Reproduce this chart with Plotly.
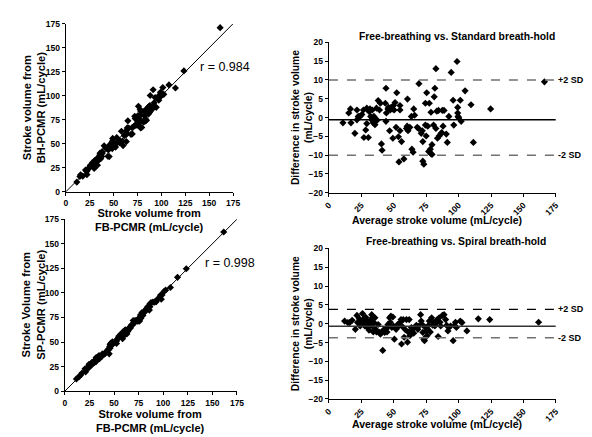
import plotly.graph_objects as go

# ---------------- data ----------------
# Bland-Altman: Free-breathing vs. Standard breath-hold (average, difference = BH - FB)
avg_std = [10.8, 16.6, 15.3, 17.0, 20.0, 21.6, 21.6, 22.6, 24.0, 25.4, 26.6, 27.0, 28.4, 29.2, 29.2,
           30.4, 30.9, 31.7, 32.2, 33.0, 33.4, 34.2, 34.7, 35.5, 36.0, 36.7, 37.2, 38.0, 39.0, 39.7,
           40.5, 41.0, 44.0, 43.5, 44.3, 44.0, 45.5, 46.0, 46.8, 47.3, 48.0, 49.0, 49.8, 50.3, 49.3,
           51.0, 52.3, 51.8, 53.6, 54.0, 54.8, 54.8, 54.8, 56.0, 57.8, 59.8, 60.3, 60.6, 61.0, 62.4,
           63.6, 64.0, 64.9, 65.4, 66.1, 68.1, 69.1, 69.4, 71.2, 72.0, 72.4, 73.2, 72.4, 74.4, 74.4,
           75.0, 75.4, 76.2, 77.4, 76.9, 78.2, 78.7, 79.5, 78.7, 79.5, 81.2, 81.7, 80.7, 82.5, 82.5,
           83.2, 83.7, 84.5, 85.0, 86.2, 87.0, 87.5, 88.0, 88.8, 90.5, 91.3, 92.5, 94.3, 95.8, 96.3,
           98.8, 99.3, 99.3, 99.6, 100.0, 101.3, 102.0, 105.0, 109.6, 111.4, 124.7, 166.2]
diff_std = [-1.4, 2.3, 1.2, -1.4, -4.2, 2.0, -0.6, 0.3, 0.3, 0.8, 2.0, -5.3, -3.3, 2.5, -1.6,
            -5.3, 1.6, 2.3, 0.3, -0.6, 2.0, -1.4, 0.3, -1.9, -0.6, 2.5, -0.7, 4.5, 2.0, 3.8,
            -7.0, -8.7, 7.8, 3.8, 1.2, -1.0, 2.3, 2.7, -3.5, 2.0, 2.7, 2.3, 3.2, 2.0, -5.5,
            4.0, 6.6, -2.6, -5.1, -11.8, 3.2, 2.0, -3.5, -6.4, -11.0, -2.9, -2.3, 4.9, -3.5, -2.6,
            0.3, -8.4, -9.2, 2.3, 0.6, -2.6, -2.9, 9.0, -4.2, -3.5, -11.6, -12.4, -6.4, 3.8, -2.0,
            -4.9, 6.6, -2.3, 3.8, -9.0, -8.4, -9.6, -7.2, 1.4, -9.8, 5.5, 7.8, -2.0, 13.0, -2.9,
            1.7, -5.5, 1.9, -4.9, -4.4, -4.0, 1.9, -2.3, 1.9, -4.4, -6.6, 0.3, 12.0, 4.6, -2.0,
            14.9, 2.7, 1.2, 0.3, 0.0, 4.6, -1.0, 7.1, 3.4, -6.6, 2.3, 9.5]

# Bland-Altman: Free-breathing vs. Spiral breath-hold (average, difference = SP - FB)
avg_sp = [12.1, 14.6, 16.0, 17.9, 20.4, 21.6, 22.1, 23.4, 24.1, 25.1, 25.9, 26.7, 27.2, 27.7, 28.4,
          29.2, 29.7, 30.4, 30.9, 31.7, 32.2, 33.0, 33.4, 34.2, 34.7, 35.5, 36.0, 36.7, 38.0, 39.0,
          39.7, 41.0, 41.5, 42.2, 43.0, 44.0, 44.8, 45.5, 46.0, 46.8, 47.3, 47.8, 48.5, 49.3, 49.8,
          50.5, 51.8, 53.0, 54.0, 54.8, 55.6, 56.0, 56.8, 57.3, 58.0, 59.0, 59.8, 60.6, 61.1, 61.9,
          62.4, 63.1, 63.6, 64.4, 65.4, 66.1, 67.4, 68.6, 69.4, 70.7, 71.2, 71.9, 72.4, 73.2, 73.7,
          74.4, 74.9, 75.7, 76.2, 76.9, 77.4, 78.2, 79.2, 80.0, 80.7, 81.7, 82.5, 83.2, 84.2, 85.0,
          85.7, 86.2, 87.5, 88.8, 90.0, 90.8, 91.8, 92.5, 93.8, 95.8, 96.8, 97.6, 98.3, 101.3, 102.6,
          106.4, 115.2, 124.0, 161.7]
diff_sp = [0.7, 0.3, 0.3, 0.9, -1.5, 2.2, 0.3, 1.3, -0.6, 0.7, 2.7, -0.2, 1.3, -0.6, 1.7,
           0.7, -1.0, 0.3, -1.7, -0.2, 1.1, 2.4, -0.6, -2.2, 0.3, 1.6, -1.5, -2.2, -0.2, -2.3,
           -2.8, -2.2, -7.1, -1.6, -2.3, -1.5, -2.2, -0.2, -0.6, 1.6, 0.4, 2.0, -1.0, 1.8, -0.6,
           -4.1, -1.5, -0.2, -0.6, 0.3, 1.1, -5.4, -0.8, 1.1, -3.6, -1.6, 1.1, -4.9, -2.2, 1.1,
           -3.2, -2.2, -1.0, -1.5, -2.5, -1.0, -0.4, -1.5, -0.6, 2.4, 0.7, -0.2, -2.3, -4.1, -4.5,
           -1.0, -1.9, -3.2, -1.5, -0.4, 0.7, -2.2, 1.6, -0.4, 0.3, -0.6, 0.1, 1.0, -3.4, 1.6,
           0.4, -0.6, 2.2, 2.4, 1.1, -0.4, -1.9, -1.0, -0.6, -4.5, -0.4, 0.4, -1.0, 0.7, 0.3,
           -1.9, 1.3, 1.1, 0.4]

# Reference lines (bias and limits of agreement)
std_mean, std_upper, std_lower = -0.6, 10.0, -10.0
sp_mean, sp_upper, sp_lower = -0.7, 3.8, -3.7

r_std_label = "r = 0.984"
r_sp_label = "r = 0.998"

scatter_ticks = [0, 25, 50, 75, 100, 125, 150, 175]
diff_ticks = [-20, -15, -10, -5, 0, 5, 10, 15, 20]
AXIS_MAX = 175

# measurements reconstructed from the Bland-Altman pairs
fb_std = [a - d / 2 for a, d in zip(avg_std, diff_std)]
bh_std = [a + d / 2 for a, d in zip(avg_std, diff_std)]
fb_sp = [a - d / 2 for a, d in zip(avg_sp, diff_sp)]
sp_vals = [a + d / 2 for a, d in zip(avg_sp, diff_sp)]

# ---------------- figure ----------------
W, H = 592, 437
FONT = "Arial, Liberation Sans, Helvetica, sans-serif"


def px_x(p):
    return p / W


def px_y(p):
    return 1 - p / H


fig = go.Figure()
marker = dict(symbol="diamond", size=5.5, color="black", line=dict(width=0))

fig.add_trace(go.Scatter(x=fb_std, y=bh_std, mode="markers", marker=marker, xaxis="x", yaxis="y"))
fig.add_trace(go.Scatter(x=fb_sp, y=sp_vals, mode="markers", marker=marker, xaxis="x3", yaxis="y3"))
fig.add_trace(go.Scatter(x=avg_std, y=diff_std, mode="markers", marker=marker, xaxis="x2", yaxis="y2"))
fig.add_trace(go.Scatter(x=avg_sp, y=diff_sp, mode="markers", marker=marker, xaxis="x4", yaxis="y4"))

tickfont = dict(family=FONT, size=8.5, color="black", weight="bold")
axis_common = dict(showline=True, linecolor="black", linewidth=1.4, ticks="outside", ticklen=3,
                   tickwidth=1.2, tickcolor="black", showgrid=False, zeroline=False,
                   tickfont=tickfont, fixedrange=True)

fig.update_layout(
    width=W, height=H, margin=dict(l=0, r=0, t=0, b=0), showlegend=False,
    paper_bgcolor="white", plot_bgcolor="white",
    xaxis=dict(domain=[px_x(53), px_x(224)], range=[0, AXIS_MAX], tickvals=scatter_ticks,
               anchor="y", **axis_common),
    yaxis=dict(domain=[px_y(183), px_y(11)], range=[0, AXIS_MAX], tickvals=scatter_ticks,
               anchor="x", **axis_common),
    xaxis3=dict(domain=[px_x(52), px_x(228)], range=[0, AXIS_MAX], tickvals=scatter_ticks,
                anchor="y3", **axis_common),
    yaxis3=dict(domain=[px_y(387), px_y(211)], range=[0, AXIS_MAX], tickvals=scatter_ticks,
                anchor="x3", **axis_common),
    xaxis2=dict(domain=[px_x(322), px_x(554)], range=[0, AXIS_MAX], tickvals=scatter_ticks,
                tickangle=-45, anchor="y2", **axis_common),
    yaxis2=dict(domain=[px_y(184), px_y(30)], range=[-20, 20], tickvals=diff_ticks,
                anchor="x2", **axis_common),
    xaxis4=dict(domain=[px_x(322), px_x(554)], range=[0, AXIS_MAX], tickvals=scatter_ticks,
                tickangle=-45, anchor="y4", **axis_common),
    yaxis4=dict(domain=[px_y(395), px_y(241)], range=[-20, 20], tickvals=diff_ticks,
                anchor="x4", **axis_common),
)

# identity lines
for xr, yr in (("x", "y"), ("x3", "y3")):
    fig.add_shape(type="line", xref=xr, yref=yr, x0=0, y0=0, x1=AXIS_MAX, y1=AXIS_MAX,
                  line=dict(color="black", width=1))


# bias and limits lines
def hline(xr, yr, yv, color, dash, width):
    fig.add_shape(type="line", xref=xr, yref=yr, x0=0, x1=AXIS_MAX, y0=yv, y1=yv,
                  line=dict(color=color, dash=dash, width=width))


hline("x2", "y2", std_mean, "black", "solid", 1.5)
hline("x2", "y2", std_upper, "#707070", "dash", 1.5)
hline("x2", "y2", std_lower, "#707070", "dash", 1.5)
hline("x4", "y4", sp_mean, "#333333", "solid", 1.5)
hline("x4", "y4", sp_upper, "black", "dash", 1.3)
hline("x4", "y4", sp_lower, "#707070", "dash", 1.5)

anns = []


def ann(text, x, y, size=10, bold=True, angle=0):
    anns.append(dict(text=("<b>%s</b>" % text) if bold else text, xref="paper",
                     yref="paper", x=x, y=y, showarrow=False, textangle=angle,
                     xanchor="center", yanchor="middle",
                     font=dict(family=FONT, size=size, color="black"), align="center"))


# left panels
ann("Stroke volume from<br>FB-PCMR (mL/cycle)", px_x(139), px_y(212), size=11)
ann("Stroke volume from<br>BH-PCMR (mL/cycle)", px_x(21), px_y(97), size=11.2, angle=-90)
ann("Stroke volume from<br>FB-PCMR (mL/cycle)", px_x(140), px_y(418), size=11)
ann("Stroke Volume from<br>SP-PCMR (mL/cycle)", px_x(20), px_y(299), size=11.2, angle=-90)
ann(r_std_label, px_x(216), px_y(55), size=12.5, bold=False)
ann(r_sp_label, px_x(221), px_y(256), size=12.5, bold=False)

# right panels
ann("Free-breathing vs. Standard breath-hold", px_x(453), px_y(24), size=10.3)
ann("Free-breathing vs. Spiral breath-hold", px_x(452), px_y(234), size=10.3)
ann("Average stroke volume (mL/cycle)", px_x(433), px_y(212), size=10.5)
ann("Average stroke volume (mL/cycle)", px_x(433), px_y(421), size=10.5)
ann("Difference in stroke volume<br>(mL/cycle)", px_x(294), px_y(107), size=10.3, angle=-90)
ann("Difference in stroke volume<br>(mL/cycle)", px_x(294), px_y(318), size=10.3, angle=-90)

# SD labels
for txt, yr, yv in (("+2 SD", "y2", std_upper), ("-2 SD", "y2", std_lower),
                    ("+2 SD", "y4", sp_upper), ("-2 SD", "y4", sp_lower)):
    anns.append(dict(text="<b>%s</b>" % txt, xref="paper", yref=yr, x=px_x(555), y=yv,
                     xanchor="left", yanchor="middle", showarrow=False, borderpad=0,
                     font=dict(family=FONT, size=9, color="black")))

fig.update_layout(annotations=anns)
fig.write_html("out.html")
